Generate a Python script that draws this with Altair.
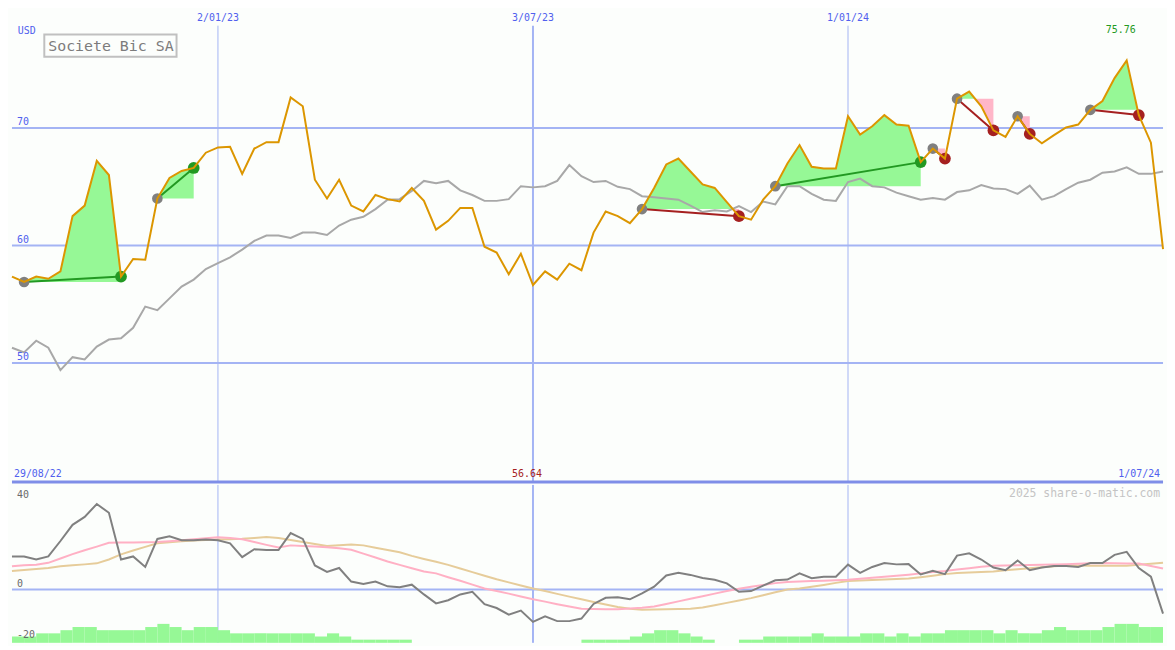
import altair as alt
import pandas as pd

W, HM, HL = 1159, 475, 159
SX, SY = W / 1175, (HM + HL) / 650
FONT = "DejaVu Sans Mono"

BG = "#fcfefc"
GRID = "#a4b4f4"
BORDER = "#7f8ee8"
BLUE = "#5060ee"
ORANGE = "#dc9600"
MAC = "#a8a8a8"
GREENF = "#96f896"
PINK = "#ffb6c8"
GREENL = "#229922"
RED = "#a52020"
DOTG = "#808080"
OSC = "#808080"
SIG1 = "#ffb0c4"
SIG2 = "#e6cc9a"

# ---------------- data ----------------
dates = pd.date_range("2022-09-05", periods=96, freq="7D")

price = [57.36, 56.9, 57.36, 57.17, 57.8, 62.5, 63.4, 67.2, 66.0, 57.36,
         58.85, 58.8, 64.0, 65.75, 66.35, 66.6, 67.9, 68.35, 68.4, 66.1,
         68.25, 68.8, 68.8, 72.6, 71.85, 65.6, 64.0, 65.6, 63.4, 62.9,
         64.3, 63.95, 63.75, 64.9, 63.8, 61.35, 62.1, 63.2, 63.2, 59.9,
         59.4, 57.55, 59.3, 56.64, 57.8, 57.1, 58.45, 57.9, 61.1, 62.9,
         62.5, 61.9, 63.1, 64.9, 66.9, 67.4, 66.3, 65.2, 64.9, 63.7,
         62.5, 62.2, 63.9, 65.05, 66.98, 68.55, 66.7, 66.55, 66.55, 71.0,
         69.45, 70.15, 71.1, 70.3, 70.2, 67.1, 68.25, 67.4, 72.5, 73.1,
         71.85, 69.8, 69.25, 71.0, 69.5, 68.7, 69.4, 70.05, 70.3, 71.55,
         72.3, 74.25, 75.76, 71.1, 68.75, 59.7]

ma = [51.3, 50.9, 51.9, 51.3, 49.4, 50.5, 50.3, 51.4, 52.0, 52.1,
      53.0, 54.8, 54.5, 55.5, 56.5, 57.1, 58.0, 58.5, 59.0, 59.65,
      60.4, 60.85, 60.85, 60.65, 61.1, 61.1, 60.9, 61.7, 62.2, 62.45,
      63.1, 63.9, 63.95, 64.65, 65.5, 65.3, 65.5, 64.7, 64.3, 63.8,
      63.8, 63.95, 65.05, 64.95, 65.05, 65.5, 66.85, 65.9, 65.4, 65.5,
      65.0, 64.8, 64.2, 64.1, 64.0, 63.9, 63.4, 62.85, 63.0, 62.9,
      63.35, 62.85, 63.75, 63.5, 65.05, 65.05, 64.4, 63.9, 63.8, 65.4,
      65.7, 65.05, 64.95, 64.5, 64.2, 63.9, 64.05, 63.9, 64.55, 64.7,
      65.15, 64.85, 64.8, 64.4, 65.1, 63.9, 64.2, 64.8, 65.35, 65.6,
      66.2, 66.3, 66.65, 66.1, 66.1, 66.3]

osc = [12.9, 12.9, 11.7, 12.9, 18.9, 25.2, 28.3, 33.3, 29.9, 11.7,
       12.9, 8.8, 19.7, 20.75, 19.2, 19.2, 19.5, 19.2, 18.0, 12.6,
       15.7, 15.4, 15.4, 22.0, 19.7, 9.4, 6.9, 8.4, 3.1, 2.15,
       3.1, 1.25, 0.9, 1.9, -1.9, -5.4, -4.15, -1.9, -0.9, -5.7,
       -7.2, -9.8, -8.2, -12.6, -10.4, -12.3, -12.3, -11.3, -5.6, -3.2,
       -3.0, -3.8, -1.5, 1.1, 5.5, 6.5, 5.7, 4.5, 3.8, 2.4,
       -0.9, -0.6, 1.5, 3.6, 3.9, 6.3, 4.4, 5.0, 5.0, 9.7,
       6.5, 8.8, 10.3, 9.8, 9.9, 5.9, 7.3, 6.0, 13.2, 14.1,
       11.7, 8.6, 7.5, 11.3, 7.5, 8.6, 9.2, 9.2, 8.8, 10.3,
       10.3, 13.5, 14.7, 8.4, 5.0, -9.4]

sig1 = [9.05, 9.5, 9.7, 10.4, 12.1, 13.8, 15.3, 16.7, 18.2, 18.3,
        18.3, 18.4, 18.5, 18.85, 19.2, 19.6, 20.0, 20.4, 20.1, 19.6,
        18.5, 17.4, 16.4, 17.2, 17.0, 16.8, 16.5, 16.1, 15.5, 14.0,
        12.5, 10.9, 9.6, 8.3, 7.0, 6.3, 4.8, 3.4, 1.9, 0.4,
        -0.6, -1.6, -2.7, -3.8, -4.7, -5.7, -6.6, -7.5, -7.6, -7.7,
        -7.7, -7.4, -7.1, -6.6, -5.6, -4.6, -3.6, -2.6, -1.6, -0.6,
        0.3, 1.1, 1.8, 2.5, 2.95, 3.1, 3.3, 3.45, 3.6, 3.8,
        4.2, 4.6, 5.0, 5.4, 5.8, 6.3, 6.8, 7.2, 7.8, 8.3,
        8.9, 9.25, 9.4, 9.5, 9.6, 9.7, 9.8, 9.9, 10.0, 10.2,
        10.3, 10.2, 10.15, 10.1, 9.2, 8.2]

sig2 = [7.2, 7.6, 8.0, 8.4, 9.05, 9.5, 9.8, 10.2, 11.7, 13.7,
        15.2, 16.6, 18.0, 18.4, 18.8, 19.1, 19.3, 19.5, 19.6, 19.75,
        20.1, 20.5, 20.1, 19.3, 18.5, 17.7, 17.0, 17.25, 17.5, 17.2,
        16.3, 15.4, 14.5, 13.1, 11.9, 10.8, 9.6, 8.2, 6.8, 5.35,
        4.0, 2.8, 1.6, 0.4, -0.6, -1.7, -2.75, -3.8, -4.85, -5.8,
        -6.8, -7.45, -7.9, -7.8, -7.7, -7.6, -7.5, -7.0, -6.1, -5.2,
        -4.3, -3.35, -2.2, -1.05, 0.0, 0.37, 1.1, 1.8, 2.6, 3.3,
        3.55, 3.75, 3.95, 4.1, 4.3, 4.8, 5.4, 6.0, 6.4, 6.6,
        6.8, 7.06, 7.5, 7.9, 8.3, 8.7, 9.1, 9.4, 9.35, 9.3,
        9.3, 9.25, 9.3, 9.7, 10.05, 10.4]

vol = [2, 2, 3, 3, 4, 5, 5, 4, 4, 4,
       4, 5, 6, 5, 4, 5, 5, 4, 3, 3,
       3, 3, 3, 3, 3, 2, 3, 2, 1, 1,
       1, 1, 1, 0, 0, 0, 0, 0, 0, 0,
       0, 0, 0, 0, 0, 0, 0, 1, 1, 1,
       1, 2, 3, 4, 4, 3, 2, 1, 0, 0,
       1, 1, 2, 2, 2, 2, 3, 2, 2, 2,
       3, 3, 2, 3, 2, 3, 3, 4, 4, 4,
       4, 3, 4, 3, 3, 4, 5, 4, 4, 4,
       5, 6, 6, 5, 5]

entries = [1, 12, 52, 63, 76, 78, 83, 89]
exits = [9, 15, 60, 75, 77, 81, 84, 93]

grid_dates = pd.to_datetime(["2023-01-02", "2023-07-03", "2024-01-01"])
grid_labels = ["2/01/23", "3/07/23", "1/01/24"]
grid_widths = [1, 2, 1]
price_grid = [50, 60, 70]
price_grid_labels = ["50", "60", "70"]

# ---------------- tables ----------------
main_df = pd.DataFrame({"date": dates, "price": price, "ma": ma})
low_df = pd.DataFrame({"date": dates, "osc": osc, "sig1": sig1, "sig2": sig2})
vol_df = pd.DataFrame({"date": dates[:-1], "date2": dates[1:], "vol": vol, "zero": 0})

area_rows, line_rows, entry_rows, exit_rows = [], [], [], []
for t, (a, b) in enumerate(zip(entries, exits)):
    base = price[a]
    pts = []
    for i in range(a, b + 1):
        if i > a:
            p0, p1 = price[i - 1], price[i]
            if (p0 - base) * (p1 - base) < 0:
                f = (base - p0) / (p1 - p0)
                pts.append((dates[i - 1] + (dates[i] - dates[i - 1]) * f, base))
        pts.append((dates[i], price[i]))
    for d, p in pts:
        area_rows.append({"trade": t, "date": d, "base": base,
                          "up": max(p, base), "dn": min(p, base)})
    res = "win" if price[b] >= price[a] else "loss"
    line_rows.append({"date": dates[a], "price": price[a],
                      "date2": dates[b], "price2": price[b], "res": res})
    entry_rows.append({"date": dates[a], "price": price[a]})
    exit_rows.append({"date": dates[b], "price": price[b], "res": res})
area_df = pd.DataFrame(area_rows)
tl_df = pd.DataFrame(line_rows)
en_df = pd.DataFrame(entry_rows)
ex_df = pd.DataFrame(exit_rows)

vgrid_df = pd.DataFrame({"date": grid_dates, "lab": grid_labels, "w": grid_widths})
hgrid_df = pd.DataFrame({"v": price_grid, "lab": price_grid_labels})
one = pd.DataFrame({"a": [0]})

# ---------------- scales ----------------
XS = alt.Scale(domain=[alt.DateTime(year=2022, month=9, date=5),
                       alt.DateTime(year=2024, month=7, date=1)])
YM = alt.Scale(domain=[39.88, 80.03])
YL = alt.Scale(domain=[-20.75, 40.75])
YV = alt.Scale(domain=[0, 50])
RES = alt.Scale(domain=["win", "loss"], range=[GREENL, RED])


def X(f="date"):
    return alt.X(f, type="temporal", scale=XS, axis=None)


def YMf(f):
    return alt.Y(f, type="quantitative", scale=YM, axis=None, stack=None)


def YLf(f):
    return alt.Y(f, type="quantitative", scale=YL, axis=None, stack=None)


def txt(text, color, size=10, align="left", **kw):
    return alt.Chart(one).mark_text(text=text, color=color, font=FONT, fontSize=size,
                                    align=align, baseline="middle", **kw)


# ---------------- main panel ----------------
hgrid = alt.Chart(hgrid_df).mark_rule(color=GRID, strokeWidth=2).encode(y=YMf("v"))
hlab = alt.Chart(hgrid_df).mark_text(color=BLUE, font=FONT, fontSize=10, align="left",
                                     baseline="alphabetic", dx=5, dy=-3).encode(
    x=alt.value(0), y=YMf("v"), text="lab:N")
vgrid = alt.Chart(vgrid_df).mark_rule(color=GRID).encode(
    x=X(), y=alt.value(16 * SY), y2=alt.value(HM),
    strokeWidth=alt.StrokeWidth("w:Q", scale=None))
vlab = alt.Chart(vgrid_df).mark_text(color=BLUE, font=FONT, fontSize=10,
                                     baseline="middle").encode(
    x=X(), y=alt.value(8 * SY), text="lab:N")
border = alt.Chart(one).mark_rule(color=BORDER, strokeWidth=3).encode(y=alt.value(HM))

green_area = alt.Chart(area_df).mark_area(color=GREENF, opacity=1).encode(
    x=X(), y=YMf("up"), y2="base:Q", detail="trade:N")
pink_area = alt.Chart(area_df).mark_area(color=PINK, opacity=1).encode(
    x=X(), y=YMf("dn"), y2="base:Q", detail="trade:N")

ma_line = alt.Chart(main_df).mark_line(color=MAC, strokeWidth=2).encode(x=X(), y=YMf("ma"))
trade_lines = alt.Chart(tl_df).mark_rule(strokeWidth=2).encode(
    x=X(), x2="date2:T", y=YMf("price"), y2="price2:Q",
    color=alt.Color("res:N", scale=RES, legend=None))
entry_dots = alt.Chart(en_df).mark_point(filled=True, opacity=1, size=115, color=DOTG).encode(
    x=X(), y=YMf("price"))
exit_dots = alt.Chart(ex_df).mark_point(filled=True, opacity=1, size=140).encode(
    x=X(), y=YMf("price"), color=alt.Color("res:N", scale=RES, legend=None))
price_line = alt.Chart(main_df).mark_line(color=ORANGE, strokeWidth=2).encode(
    x=X(), y=YMf("price"))

usd = txt("USD", BLUE).encode(x=alt.value(6 * SX), y=alt.value(21 * SY))
box = alt.Chart(one).mark_rect(fill=BG, stroke="#c0c0c0", strokeWidth=2).encode(
    x=alt.value(33 * SX), x2=alt.value(168 * SX), y=alt.value(25 * SY), y2=alt.value(48 * SY))
title = txt("Societe Bic SA", "#7c7c7c", size=15).encode(
    x=alt.value(37 * SX), y=alt.value(36.5 * SY))
max_lab = alt.Chart(pd.DataFrame({"date": [dates[92]], "lab": ["75.76"]})).mark_text(
    color=GREENL, font=FONT, fontSize=10, baseline="middle", dx=-6).encode(
    x=X(), y=alt.value(20 * SY), text="lab:N")
min_lab = alt.Chart(pd.DataFrame({"date": [dates[43]], "lab": ["56.64"]})).mark_text(
    color=RED, font=FONT, fontSize=10, baseline="middle", dx=-6).encode(
    x=X(), y=alt.value(479 * SY), text="lab:N")
start_lab = txt("29/08/22", BLUE).encode(x=alt.value(2 * SX), y=alt.value(479 * SY))
end_lab = txt("1/07/24", BLUE, align="right").encode(x=alt.value(1172 * SX), y=alt.value(479 * SY))

top = alt.layer(hgrid, vgrid, border, green_area, pink_area, ma_line, trade_lines,
                entry_dots, exit_dots, price_line, hlab, vlab, usd, box, title,
                max_lab, min_lab, start_lab, end_lab).properties(width=W, height=HM)

# ---------------- lower panel ----------------
zero_line = alt.Chart(pd.DataFrame({"v": [0]})).mark_rule(color=GRID, strokeWidth=2).encode(
    y=YLf("v"))
vgrid2 = alt.Chart(vgrid_df).mark_rule(color=GRID).encode(
    x=X(), strokeWidth=alt.StrokeWidth("w:Q", scale=None))
bars = alt.Chart(vol_df).mark_rect(color=GREENF).encode(
    x=X(), x2="date2:T",
    y=alt.Y("vol:Q", scale=YV, axis=None), y2="zero:Q")
tan_line = alt.Chart(low_df).mark_line(color=SIG2, strokeWidth=2).encode(x=X(), y=YLf("sig2"))
pink_line = alt.Chart(low_df).mark_line(color=SIG1, strokeWidth=2).encode(x=X(), y=YLf("sig1"))
osc_line = alt.Chart(low_df).mark_line(color=OSC, strokeWidth=2).encode(x=X(), y=YLf("osc"))


def low_lab(v, lab, dy):
    return alt.Chart(pd.DataFrame({"v": [v], "lab": [lab]})).mark_text(
        color="#6a6a6a", font=FONT, fontSize=10, align="left", baseline="middle",
        dx=5, dy=dy).encode(x=alt.value(0), y=YLf("v"), text="lab:N")


l40 = low_lab(40, "40", 8)
l0 = low_lab(0, "0", -6)
lm20 = low_lab(-20, "-20", -6)
credit = txt("2025 share-o-matic.com", "#c4c4c4", size=11.5, align="right").encode(
    x=alt.value(1172 * SX), y=alt.value(9 * SY))

bottom = alt.layer(zero_line, vgrid2, bars, tan_line, pink_line, osc_line,
                   l40, l0, lm20, credit).resolve_scale(y="independent").properties(
    width=W, height=HL)

chart = alt.vconcat(top, bottom, spacing=0).properties(
    padding=0, background=BG).configure_view(stroke=None)

chart.save("out.html", embed_options={"renderer": "svg", "actions": False})
